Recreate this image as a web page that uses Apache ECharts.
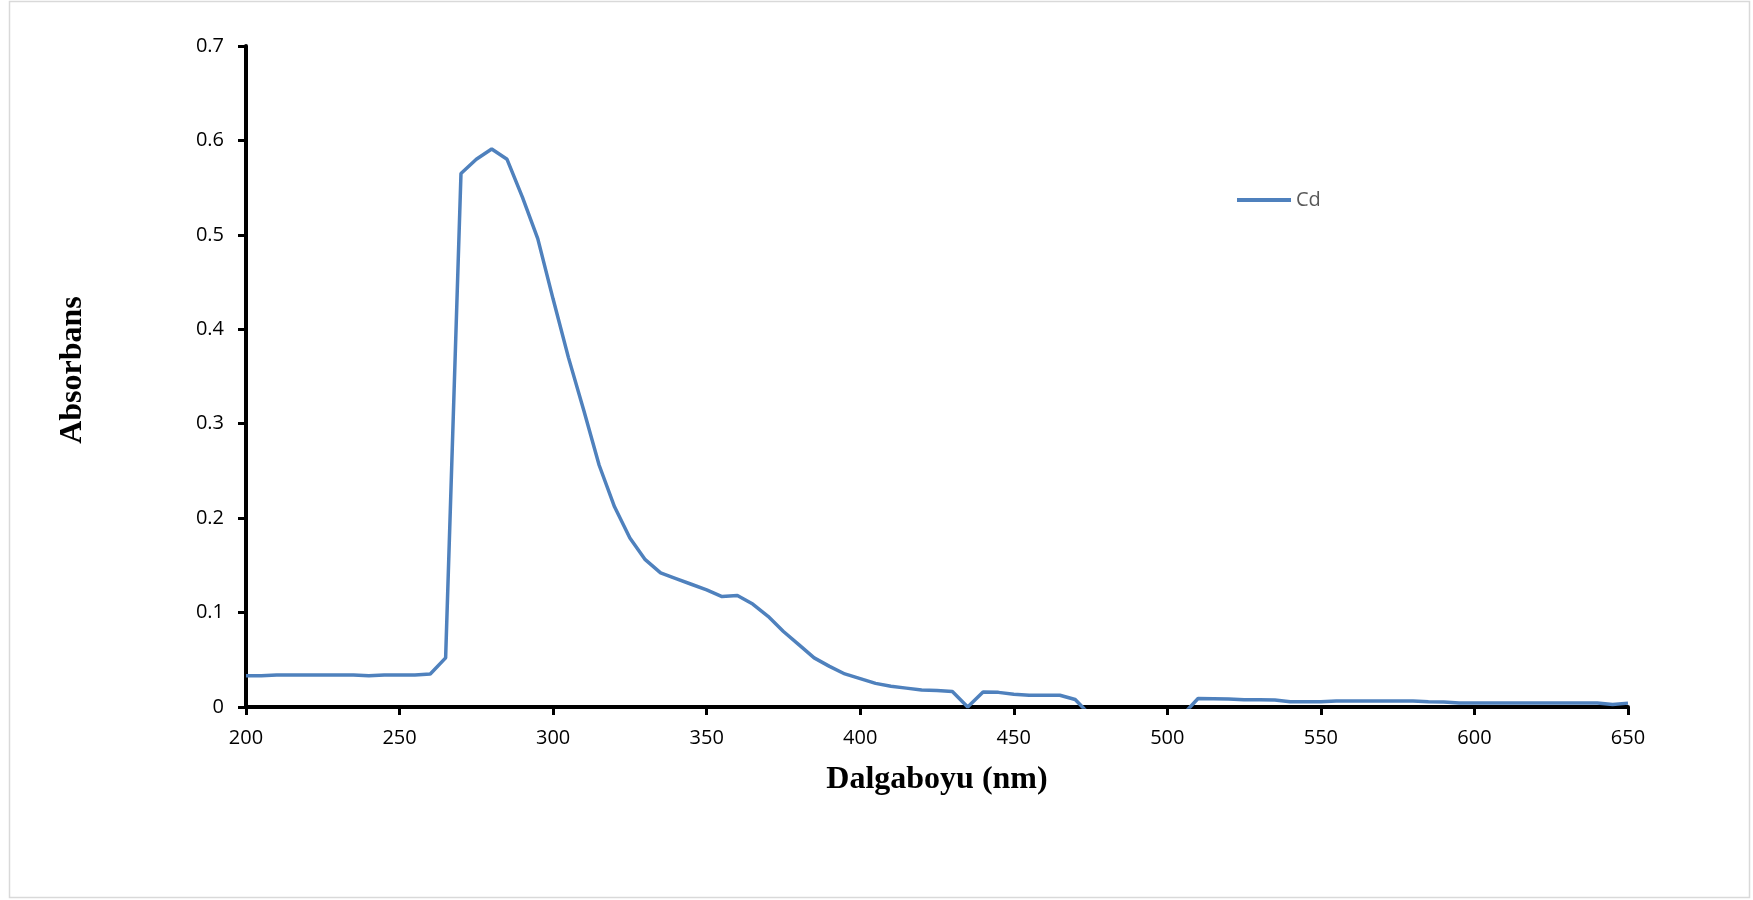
<!DOCTYPE html>
<html>
<head>
<meta charset="utf-8">
<title>Cd</title>
<script src="https://cdn.jsdelivr.net/npm/echarts@6.0.0/dist/echarts.min.js"></script>
<style>
  html, body { margin: 0; padding: 0; background: #fff; }
  #box { width: 1753px; height: 900px; }
</style>
</head>
<body>
<div id="box"></div>
<script>
// dalga boyu (nm)
var wavelength = [
  200, 205, 210, 215, 220, 225, 230, 235, 240, 245,
  250, 255, 260, 265, 270, 275, 280, 285, 290, 295,
  300, 305, 310, 315, 320, 325, 330, 335, 340, 345,
  350, 355, 360, 365, 370, 375, 380, 385, 390, 395,
  400, 405, 410, 415, 420, 425, 430, 435, 440, 445,
  450, 455, 460, 465, 470, 475, 480, 485, 490, 495,
  500, 505, 510, 515, 520, 525, 530, 535, 540, 545,
  550, 555, 560, 565, 570, 575, 580, 585, 590, 595,
  600, 605, 610, 615, 620, 625, 630, 635, 640, 645,
  650,
];
// Cd absorbans
var cdAbs = [
  0.033, 0.033, 0.034, 0.034, 0.034, 0.034, 0.034, 0.034, 0.033, 0.034,
  0.034, 0.034, 0.035, 0.052, 0.565, 0.58, 0.591, 0.58, 0.54, 0.496,
  0.432, 0.37, 0.314, 0.256, 0.212, 0.179, 0.156, 0.142, 0.136, 0.13,
  0.124, 0.117, 0.118, 0.109, 0.096, 0.08, 0.066, 0.052, 0.043, 0.035,
  0.03, 0.025, 0.022, 0.02, 0.018, 0.0175, 0.0165, 0, 0.016, 0.0155,
  0.0135, 0.0125, 0.0125, 0.0125, 0.008, -0.009, -0.012, -0.014, -0.015, -0.013,
  -0.011, -0.0085, 0.009, 0.0088, 0.0086, 0.0077, 0.0077, 0.0075, 0.0056, 0.0056,
  0.0056, 0.0064, 0.0064, 0.0064, 0.0064, 0.0064, 0.0064, 0.0056, 0.0053, 0.0043,
  0.0042, 0.0042, 0.0042, 0.0042, 0.0042, 0.0042, 0.0042, 0.0042, 0.0042, 0.0027,
  0.0041,
];
var xTicks = [200, 650, 50]; // min, max, interval
var yTicks = [0, 0.7, 0.1];

var chart = echarts.init(document.getElementById("box"));

var points = [];
for (var i = 0; i < wavelength.length; i++) {
  points.push([wavelength[i], cdAbs[i]]);
}

var axisFont = {
  color: "#000",
  fontFamily: "Open Sans",
  fontSize: 20,
};
var titleFont = {
  color: "#000",
  fontFamily: "Liberation Serif",
  fontWeight: "bold",
  fontSize: 32,
};

var option = {
  backgroundColor: "#fff",
  animation: false,
  // dış çerçeve
  graphic: [
    {
      type: "rect",
      shape: { x: 9.5, y: 1.5, width: 1740, height: 896 },
      style: { fill: "none", stroke: "#d9d9d9", lineWidth: 1.5 },
      silent: true,
    },
  ],
  grid: {
    left: 246,
    right: 125,
    top: 46,
    bottom: 193,
  },
  legend: {
    left: 1237,
    top: 190,
    padding: 0,
    itemWidth: 54,
    itemHeight: 4,
    itemGap: 6,
    textStyle: {
      color: "#595959",
      fontFamily: "Open Sans",
      fontSize: 20,
    },
    data: [{ name: "Cd", icon: "rect" }],
  },
  xAxis: {
    type: "value",
    min: xTicks[0],
    max: xTicks[1],
    interval: xTicks[2],
    name: "Dalgaboyu (nm)",
    nameLocation: "middle",
    nameGap: 57,
    nameTextStyle: titleFont,
    splitLine: { show: false },
    axisLine: { lineStyle: { color: "#000", width: 4 } },
    axisTick: { inside: false, length: 8, lineStyle: { color: "#000", width: 3 } },
    axisLabel: Object.assign({ margin: 21 }, axisFont),
  },
  yAxis: {
    type: "value",
    min: yTicks[0],
    max: yTicks[1],
    interval: yTicks[2],
    name: "Absorbans",
    nameLocation: "middle",
    nameGap: 157,
    // biraz yukarı kaydır
    nameTextStyle: Object.assign({ padding: [0, 0, 0, 13] }, titleFont),
    splitLine: { show: false },
    axisLine: { show: true, lineStyle: { color: "#000", width: 4 } },
    axisTick: { show: true, inside: false, length: 8, lineStyle: { color: "#000", width: 3 } },
    axisLabel: Object.assign({ margin: 22 }, axisFont),
  },
  series: [
    {
      name: "Cd",
      type: "line",
      data: points,
      symbol: "none",
      clip: true,
      lineStyle: { color: "#4f81bd", width: 3.5 },
      itemStyle: { color: "#4f81bd" },
    },
  ],
};
chart.setOption(option);
</script>
</body>
</html>
